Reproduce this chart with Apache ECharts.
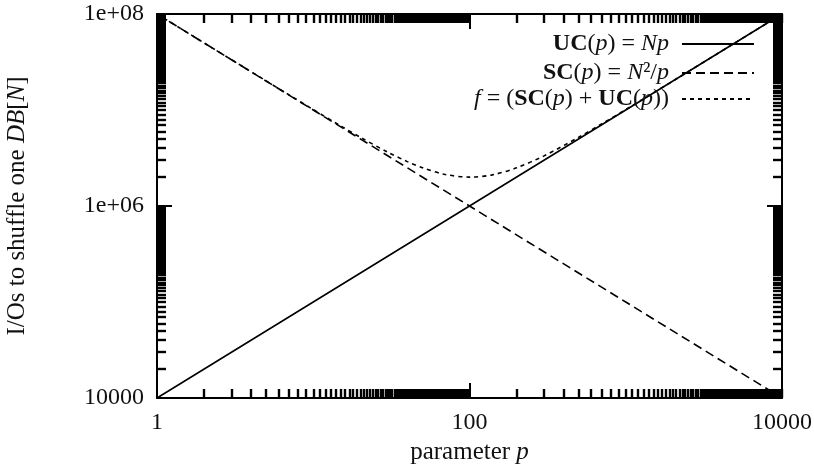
<!DOCTYPE html>
<html>
<head>
<meta charset="utf-8">
<script src="https://cdn.jsdelivr.net/npm/echarts@6/dist/echarts.min.js"></script>
<style>
html,body{margin:0;padding:0;background:#fff;}
#chart{width:814px;height:465px;}
</style>
</head>
<body>
<div id="chart"></div>
<script>
// ---- data ----
var linePoints = [1, 10, 100, 1000, 10000];
var ucValues = [10000, 100000, 1000000, 10000000, 100000000];
var scValues = [100000000, 10000000, 1000000, 100000, 10000];
var fPoints = [1, 2, 3, 5, 7, 10, 15, 20, 30, 40, 50, 70, 100, 140, 200, 300, 500, 700, 1000, 2000, 5000, 10000];
var fValues = [100010000, 50020000, 33360000, 20050000, 14360000, 10100000, 6820000, 5200000, 3630000, 2900000, 2500000, 2130000, 2000000, 2110000, 2500000, 3330000, 5200000, 7140000, 10100000, 20000000, 50000000, 100000000];
var xTickValues = [1, 100, 10000];
var xTickLabels = ['1', '100', '10000'];
var yTickValues = [10000, 1000000, 100000000];
var yTickLabels = ['10000', '1e+06', '1e+08'];
var seriesNames = ['UC', 'SC', 'f'];

// minor tick positions (axis decoration)
var xMinor = [];
var yMinor = [];
(function () {
  var k;
  for (k = 2; k <= 99; k++) { xMinor.push(k); xMinor.push(k * 100); }
  for (k = 2; k <= 99; k++) { yMinor.push(k * 10000); yMinor.push(k * 1000000); }
})();

var FONT = 'Liberation Serif';
var TXT = '#111';

function pairs(xs, ys) { return xs.map(function (x, i) { return [x, ys[i]]; }); }

function lookup(vals, labels) {
  return function (v) {
    for (var i = 0; i < vals.length; i++) {
      if (Math.abs(v - vals[i]) / vals[i] < 1e-6) return labels[i];
    }
    return '';
  };
}

var richBase = {
  r: { fontFamily: FONT, fontSize: 24, color: TXT },
  b: { fontFamily: FONT, fontSize: 24, fontWeight: 'bold', color: TXT },
  i: { fontFamily: FONT, fontSize: 24, fontStyle: 'italic', color: TXT }
};

function majorX(pos, showLabel) {
  return {
    type: 'log', logBase: 100, position: pos, min: 1, max: 10000,
    axisLine: { show: true, lineStyle: { color: '#000', width: 2 } },
    axisTick: { show: true, inside: true, length: 15, lineStyle: { color: '#000', width: 2 } },
    axisLabel: { show: showLabel, fontFamily: FONT, fontSize: 24, color: TXT, margin: 13, formatter: lookup(xTickValues, xTickLabels) },
    splitLine: { show: false },
    minorTick: { show: false }
  };
}
function minorX(pos) {
  return {
    type: 'log', logBase: 10, position: pos, min: 1, max: 10000,
    axisLine: { show: false },
    axisTick: { show: true, inside: true, length: 9, customValues: xMinor, lineStyle: { color: '#000', width: 2.4 } },
    axisLabel: { show: false },
    splitLine: { show: false }
  };
}
function majorY(pos, showLabel) {
  return {
    type: 'log', logBase: 100, position: pos, min: 10000, max: 100000000,
    axisLine: { show: true, lineStyle: { color: '#000', width: 2 } },
    axisTick: { show: true, inside: true, length: 15, lineStyle: { color: '#000', width: 2 } },
    axisLabel: { show: showLabel, fontFamily: FONT, fontSize: 24, color: TXT, margin: 13, formatter: lookup(yTickValues, yTickLabels) },
    splitLine: { show: false },
    minorTick: { show: false }
  };
}
function minorY(pos) {
  return {
    type: 'log', logBase: 10, position: pos, min: 10000, max: 100000000,
    axisLine: { show: false },
    axisTick: { show: true, inside: true, length: 9, customValues: yMinor, lineStyle: { color: '#000', width: 2.4 } },
    axisLabel: { show: false },
    splitLine: { show: false }
  };
}

var xMain = majorX('bottom', true);
xMain.name = 'parameter {i|p}';
xMain.nameLocation = 'middle';
xMain.nameGap = 40;
xMain.nameTextStyle = { fontFamily: FONT, fontSize: 25, color: TXT, rich: { i: { fontFamily: FONT, fontSize: 25, fontStyle: 'italic', color: TXT } } };

var yMain = majorY('left', true);
yMain.name = 'I/Os to shuffle one {i|DB}[{i|N}]';
yMain.nameLocation = 'middle';
yMain.nameGap = 127;
yMain.nameTextStyle = { fontFamily: FONT, fontSize: 25, color: TXT, rich: { i: { fontFamily: FONT, fontSize: 25, fontStyle: 'italic', color: TXT } } };

var legendText = {
  UC: '{b|UC}{r|(}{i|p}{r|) = }{i|Np}',
  SC: '{b|SC}{r|(}{i|p}{r|) = }{i|N}{r|²/}{i|p}',
  f: '{i|f}{r| = (}{b|SC}{r|(}{i|p}{r|) + }{b|UC}{r|(}{i|p}{r|))}'
};
function makeLegend(name, top) {
  return {
    data: [name], right: 59, top: top, align: 'right', orient: 'vertical',
    padding: 0, itemWidth: 72, itemHeight: 14, selectedMode: false,
    itemStyle: { opacity: 0 },
    formatter: function (n) { return legendText[n]; },
    textStyle: { fontFamily: FONT, fontSize: 24, color: TXT, padding: [0, 8, 0, 0], rich: richBase }
  };
}

var chart = echarts.init(document.getElementById('chart'), null, { renderer: 'canvas' });
chart.setOption({
  backgroundColor: '#fff',
  animation: false,
  grid: { left: 157, right: 32, top: 14, bottom: 67, containLabel: false, outerBoundsMode: 'none' },
  xAxis: [xMain, minorX('bottom'), majorX('top', false), minorX('top')],
  yAxis: [yMain, minorY('left'), majorY('right', false), minorY('right')],
  legend: [makeLegend('UC', 32), makeLegend('SC', 61), makeLegend('f', 87)],
  series: [
    { name: seriesNames[0], type: 'line', data: pairs(linePoints, ucValues), symbol: 'none', xAxisIndex: 0, yAxisIndex: 0,
      lineStyle: { color: '#000', width: 1.6, type: 'solid' }, itemStyle: { color: '#000' } },
    { name: seriesNames[1], type: 'line', data: pairs(linePoints, scValues), symbol: 'none', xAxisIndex: 0, yAxisIndex: 0,
      lineStyle: { color: '#000', width: 1.6, type: [9, 5] }, itemStyle: { color: '#000' } },
    { name: seriesNames[2], type: 'line', data: pairs(fPoints, fValues), symbol: 'none', smooth: 0.3, xAxisIndex: 0, yAxisIndex: 0,
      lineStyle: { color: '#000', width: 1.6, type: [4, 4] }, itemStyle: { color: '#000' } }
  ]
});
</script>
</body>
</html>
